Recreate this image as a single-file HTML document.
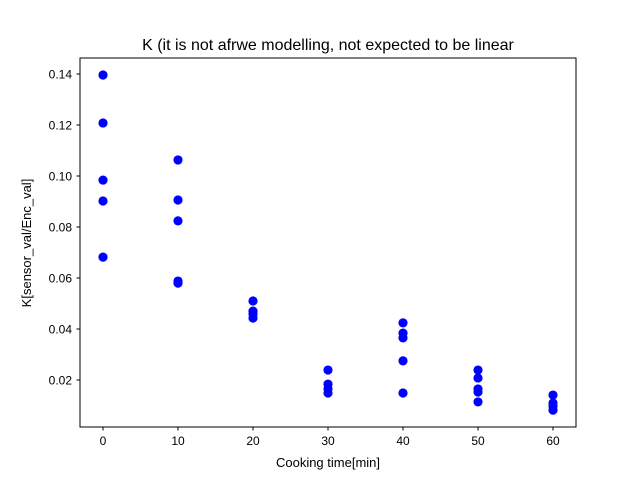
<!DOCTYPE html>
<html><head><meta charset="utf-8">
<style>
html,body{margin:0;padding:0;background:#fff;}
svg{display:block;font-family:"Liberation Sans","DejaVu Sans",sans-serif;}
</style></head>
<body>
<svg id="chart" width="640" height="480">
  <rect width="640" height="480" fill="#fff"/>
  <text x="328" y="50" font-size="16" text-anchor="middle">K (it is not afrwe modelling, not expected to be linear</text>
  <g id="ticks"></g>
  <g id="points"></g>
  <rect x="80" y="58" width="496" height="369" fill="none" stroke="#000" stroke-width="1"/>
  <text x="328" y="467" font-size="13" text-anchor="middle">Cooking time[min]</text>
  <text x="0" y="0" font-size="13" text-anchor="middle" transform="translate(31,243) rotate(-90)">K[sensor_val/Enc_val]</text>
</svg>
<script>
const xs = [0,0,0,0,0,10,10,10,10,10,20,20,20,20,30,30,30,30,40,40,40,40,40,50,50,50,50,50,60,60,60,60];
const ys = [0.1396,0.1208,0.0984,0.0902,0.0682,0.1063,0.0906,0.0824,0.0588,0.0580,0.0510,0.0470,0.0459,0.0443,0.0239,0.0184,0.0165,0.0149,0.0424,0.0384,0.0365,0.0275,0.0149,0.0239,0.0208,0.0165,0.0153,0.0114,0.0141,0.0110,0.0098,0.0082];
const xTicks = [0,10,20,30,40,50,60];
const yTicks = [0.02,0.04,0.06,0.08,0.10,0.12,0.14];
const NS = "http://www.w3.org/2000/svg";
function xScale(v){ return 103 + v * 7.5; }
function yScale(v){ return 431 - v * 2550; }
const tg = document.getElementById('ticks');
function mk(tag, attrs, parent){ const e=document.createElementNS(NS,tag); for(const k in attrs) e.setAttribute(k,attrs[k]); parent.appendChild(e); return e; }
xTicks.forEach(t=>{
  const x=xScale(t);
  const l=mk('line',{x1:x,x2:x,y1:427,y2:430.5,stroke:'#000'},tg);
  
  
  const tx=mk('text',{x:x,y:445,'font-size':12,'text-anchor':'middle'},tg);
  tx.textContent=t;
  
  
});
yTicks.forEach(t=>{
  const y=yScale(t);
  const l=mk('line',{x1:76.5,x2:80,y1:y,y2:y,stroke:'#000'},tg);
  
  
  const tx=mk('text',{x:72,y:y+4.5,'font-size':12,'text-anchor':'end'},tg);
  tx.textContent=t.toFixed(2);
  
  
});
const pg=document.getElementById('points');
xs.forEach((x,i)=>{
  const c=mk('circle',{cx:xScale(x),cy:yScale(ys[i]),r:4.6,fill:'#0000ff'},pg);
  
  
});
</script>
</body></html>
